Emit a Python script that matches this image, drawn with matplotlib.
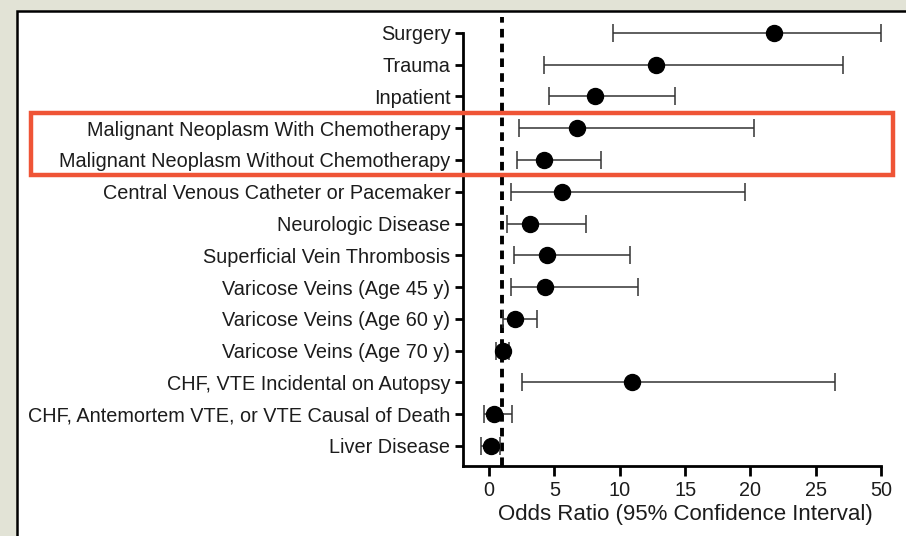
import matplotlib

matplotlib.use("Agg")
import matplotlib.pyplot as plt
import numpy as np
from matplotlib.patches import Rectangle

# risk factors, top row first
FACTORS = [
    "Surgery",
    "Trauma",
    "Inpatient",
    "Malignant Neoplasm With Chemotherapy",
    "Malignant Neoplasm Without Chemotherapy",
    "Central Venous Catheter or Pacemaker",
    "Neurologic Disease",
    "Superficial Vein Thrombosis",
    "Varicose Veins (Age 45 y)",
    "Varicose Veins (Age 60 y)",
    "Varicose Veins (Age 70 y)",
    "CHF, VTE Incidental on Autopsy",
    "CHF, Antemortem VTE, or VTE Causal of Death",
    "Liver Disease",
]
ODDS = [21.8, 12.8, 8.1, 6.7, 4.2, 5.6, 3.15, 4.45, 4.3, 2.0, 1.05, 10.9, 0.38, 0.18]
CI_LOW = [9.5, 4.2, 4.6, 2.25, 2.1, 1.65, 1.4, 1.9, 1.65, 1.05, 0.5, 2.5, -0.38, -0.6]
CI_HIGH = [50.0, 35.5, 14.2, 20.3, 8.6, 19.6, 7.45, 10.75, 11.4, 3.7, 1.5, 32.5, 1.75, 0.85]
XTICKS = [0, 5, 10, 15, 20, 25, 50]
REF_LINE = 1.0

W, H = 906, 536


# axis is squeezed above 25 (25 -> 50 takes one tick step)
def fwd(x):
    x = np.asarray(x, dtype=float)
    return np.where(x <= 25, x, 25 + (x - 25) / 5)


def inv(y):
    y = np.asarray(y, dtype=float)
    return np.where(y <= 25, y, 25 + (y - 25) * 5)


plt.rcParams["font.family"] = ["Liberation Sans", "DejaVu Sans"]
TXT = "#1c1c1c"

fig = plt.figure(figsize=(W / 100, H / 100), dpi=100)
fig.patch.set_facecolor("#e2e3d6")
# white panel with black frame
fig.add_artist(Rectangle((17 / W, -0.05), 1.0, 1 - 11 / H + 0.05, transform=fig.transFigure,
                         facecolor="white", edgecolor="black", lw=1.8, zorder=0))

ax = fig.add_axes([463 / W, 70 / H, (881 - 463) / W, (519 - 70) / H])
ax.set_facecolor("none")
ax.set_xscale("function", functions=(fwd, inv))

n = len(FACTORS)
ys = np.arange(n)[::-1]
odds = np.array(ODDS)
lo = odds - np.array(CI_LOW)
hi = np.array(CI_HIGH) - odds
ax.errorbar(odds, ys, xerr=[lo, hi], fmt="none", ecolor="#333333", elinewidth=1.1,
            capsize=6.5, capthick=1.1, zorder=2)
ax.plot(odds, ys, "o", color="black", ms=11.5, zorder=3)
ax.axvline(REF_LINE, color="black", lw=2.8, ls=(0, (2.2, 1.6)), zorder=1)

ax.set_xlim(-2, 50)
ax.set_ylim(-0.63, 13.5)
ax.set_xticks(XTICKS)
ax.set_xticklabels([str(t) for t in XTICKS])
ax.set_yticks(ys)
ax.set_yticklabels(FACTORS)
ax.spines[["top", "right"]].set_visible(False)
for s in ("left", "bottom"):
    ax.spines[s].set_linewidth(2)
ax.spines["left"].set_bounds(-0.63, n - 1)
ax.tick_params(axis="y", length=6, width=2, labelsize=14.3, labelcolor=TXT, pad=3)
ax.tick_params(axis="x", length=7, width=2, labelsize=14.3, labelcolor=TXT, pad=4)
ax.set_xlabel("Odds Ratio (95% Confidence Interval)", fontsize=16, color=TXT)
ax.xaxis.set_label_coords(0.531, -0.085)

# highlight box around the malignancy rows
fig.add_artist(Rectangle((31 / W, 1 - 175 / H), (893 - 31) / W, (175 - 113) / H,
                         transform=fig.transFigure, fill=False, edgecolor="#ef5436", lw=3.2,
                         zorder=5))

fig.savefig("out.png", dpi=100)
